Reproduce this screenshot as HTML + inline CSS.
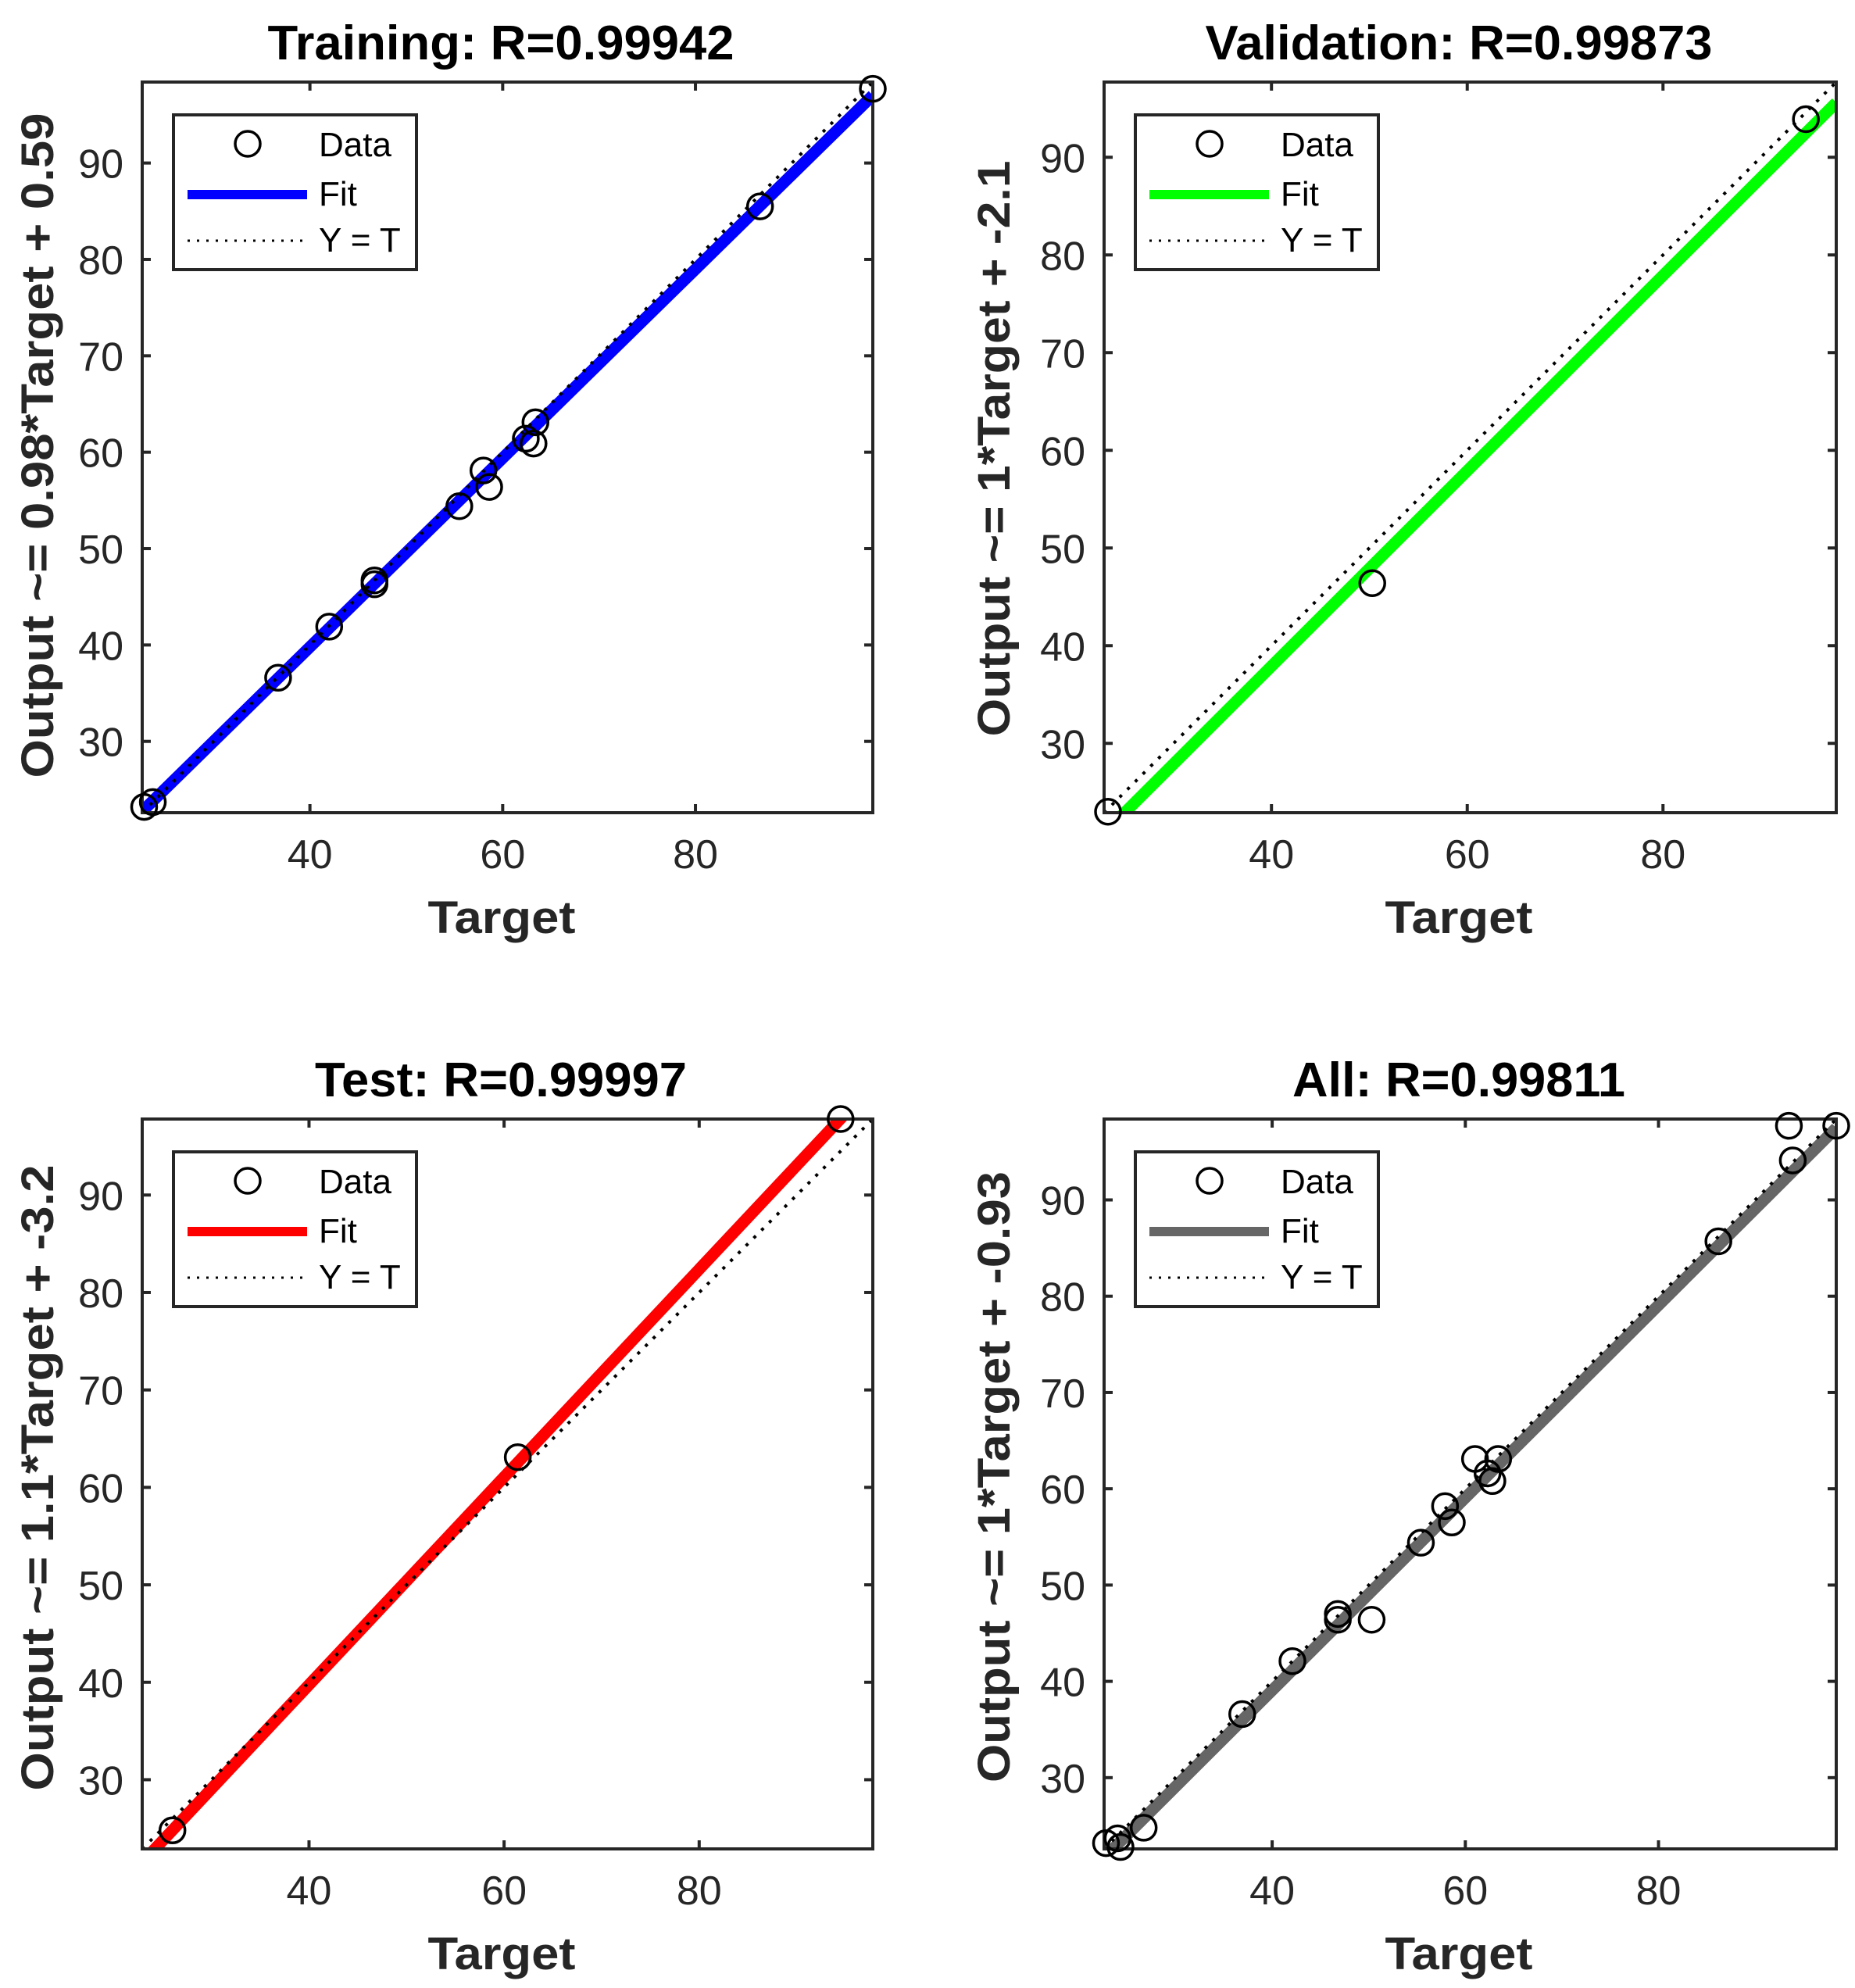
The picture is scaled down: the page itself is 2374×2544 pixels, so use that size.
<!DOCTYPE html>
<html><head><meta charset="utf-8"><style>
html,body{margin:0;padding:0;background:#fff}
svg{display:block}
text{font-family:"Liberation Sans",Arial,sans-serif}
.t{font-weight:bold;font-size:62px;fill:#000}
.al{font-weight:bold;font-size:58px;fill:#262626}
.tk{font-size:52px;fill:#262626}
.lg{font-size:44px;fill:#000}
</style></head><body>
<svg id="s" xmlns="http://www.w3.org/2000/svg" width="2374" height="2544" viewBox="0 0 2374 2544">
<rect width="2374" height="2544" fill="#fff"/>
<g id="g"></g>
<text class="t" x="641" y="76" text-anchor="middle" textLength="597" lengthAdjust="spacingAndGlyphs">Training: R=0.99942</text>
<text class="t" x="1867" y="76" text-anchor="middle" textLength="649" lengthAdjust="spacingAndGlyphs">Validation: R=0.99873</text>
<text class="t" x="641" y="1403" text-anchor="middle" textLength="476" lengthAdjust="spacingAndGlyphs">Test: R=0.99997</text>
<text class="t" x="1867" y="1403" text-anchor="middle" textLength="426" lengthAdjust="spacingAndGlyphs">All: R=0.99811</text>
<text class="al" x="642" y="1194" text-anchor="middle" textLength="189" lengthAdjust="spacingAndGlyphs">Target</text>
<text class="al" x="1867" y="1194" text-anchor="middle" textLength="189" lengthAdjust="spacingAndGlyphs">Target</text>
<text class="al" x="642" y="2520" text-anchor="middle" textLength="189" lengthAdjust="spacingAndGlyphs">Target</text>
<text class="al" x="1867" y="2520" text-anchor="middle" textLength="189" lengthAdjust="spacingAndGlyphs">Target</text>
<text class="al" transform="translate(68,570) rotate(-90)" text-anchor="middle" textLength="851" lengthAdjust="spacingAndGlyphs">Output ~= 0.98*Target + 0.59</text>
<text class="al" transform="translate(1292,574) rotate(-90)" text-anchor="middle" textLength="737" lengthAdjust="spacingAndGlyphs">Output ~= 1*Target + -2.1</text>
<text class="al" transform="translate(68,1891) rotate(-90)" text-anchor="middle" textLength="801" lengthAdjust="spacingAndGlyphs">Output ~= 1.1*Target + -3.2</text>
<text class="al" transform="translate(1292,1890) rotate(-90)" text-anchor="middle" textLength="782" lengthAdjust="spacingAndGlyphs">Output ~= 1*Target + -0.93</text>
<g id="tl"></g>
<g class="lg">
<text x="408" y="200">Data</text><text x="408" y="263">Fit</text><text x="408" y="322">Y = T</text>
<text x="1639" y="200">Data</text><text x="1639" y="263">Fit</text><text x="1639" y="322">Y = T</text>
<text x="408" y="1527">Data</text><text x="408" y="1590">Fit</text><text x="408" y="1649">Y = T</text>
<text x="1639" y="1527">Data</text><text x="1639" y="1590">Fit</text><text x="1639" y="1649">Y = T</text>
</g>
</svg>
<script>
var NS="http://www.w3.org/2000/svg",g=document.getElementById("g");
function el(n,a,p){var e=document.createElementNS(NS,n);for(var k in a)e.setAttribute(k,a[k]);(p||g).appendChild(e);return e;}
var P=[
{x0:182,x1:1117,y0:105,y1:1040,a:22.6,b:98.4,c:"#0000ff",m:0.98,q:0.59,
 d:[[22.8,23.2],[23.7,23.7],[36.7,36.6],[42.0,41.9],[46.7,46.7],[46.7,46.3],[55.5,54.4],[58.0,58.1],[58.6,56.4],[62.4,61.4],[63.2,60.9],[63.4,63.1],[86.7,85.5],[98.4,97.7]]},
{x0:1413,x1:2350,y0:105,y1:1040,a:22.9,b:97.7,c:"#00ff00",m:1.0,q:-2.1,
 d:[[23.3,23.0],[50.3,46.4],[94.6,93.9]]},
{x0:182,x1:1117,y0:1432,y1:2366,a:22.9,b:97.8,c:"#ff0000",m:1.066,q:-2.9,
 d:[[26.0,24.8],[61.4,63.1],[94.5,97.8]]},
{x0:1413,x1:2350,y0:1432,y1:2366,a:22.6,b:98.4,c:"#666666",m:1.0,q:-0.93,
 d:[[22.8,23.2],[24.0,23.7],[24.3,22.8],[26.7,24.8],[36.9,36.6],[42.1,42.1],[46.8,47.0],[46.8,46.4],[50.3,46.4],[55.4,54.4],[57.9,58.2],[58.6,56.5],[61.0,63.1],[62.3,61.6],[62.8,60.8],[63.4,63.1],[86.2,85.7],[93.5,97.7],[93.9,94.1],[98.4,97.7]]}
];
P.forEach(function(p,i){
 var sx=function(v){return p.x0+(v-p.a)/(p.b-p.a)*(p.x1-p.x0)},sy=function(v){return p.y1-(v-p.a)/(p.b-p.a)*(p.y1-p.y0)};
 var cid="c"+i;var cp=el("clipPath",{id:cid});el("rect",{x:p.x0,y:p.y0,width:p.x1-p.x0,height:p.y1-p.y0},cp);
 var gg=el("g",{"clip-path":"url(#"+cid+")"});
 el("line",{x1:sx(p.a),y1:sy(p.m*p.a+p.q),x2:sx(p.b),y2:sy(p.m*p.b+p.q),stroke:p.c,"stroke-width":15},gg);
 el("line",{x1:p.x0,y1:p.y1,x2:p.x1,y2:p.y0,stroke:"#000","stroke-width":4,"stroke-dasharray":"4 10"},gg);
 el("rect",{x:p.x0,y:p.y0,width:p.x1-p.x0,height:p.y1-p.y0,fill:"none",stroke:"#262626","stroke-width":4});
 [30,40,50,60,70,80,90].forEach(function(v){
  var y=sy(v);if(y>p.y0+2&&y<p.y1-2){el("line",{x1:p.x0,y1:y,x2:p.x0+11,y2:y,stroke:"#262626","stroke-width":4});el("line",{x1:p.x1,y1:y,x2:p.x1-11,y2:y,stroke:"#262626","stroke-width":4});
   var t=el("text",{x:p.x0-24,y:y+19,"text-anchor":"end","class":"tk"},document.getElementById("tl"));t.textContent=v;}
 });
 [40,60,80].forEach(function(v){var x=sx(v);
  el("line",{x1:x,y1:p.y1,x2:x,y2:p.y1-11,stroke:"#262626","stroke-width":4});el("line",{x1:x,y1:p.y0,x2:x,y2:p.y0+11,stroke:"#262626","stroke-width":4});
  var t=el("text",{x:x,y:p.y1+71,"text-anchor":"middle","class":"tk"},document.getElementById("tl"));t.textContent=v;});
 p.d.forEach(function(d){el("circle",{cx:sx(d[0]),cy:sy(d[1]),r:16,fill:"none",stroke:"#000","stroke-width":3.5});});
 var lx=p.x0+40,ly=p.y0+42;
 el("rect",{x:lx,y:ly,width:311,height:198,fill:"#fff",stroke:"#262626","stroke-width":4});
 el("circle",{cx:lx+95,cy:ly+37,r:16,fill:"none",stroke:"#000","stroke-width":3.5});
 el("line",{x1:lx+18,y1:ly+102,x2:lx+171,y2:ly+102,stroke:p.c,"stroke-width":12});
 el("line",{x1:lx+18,y1:ly+161,x2:lx+171,y2:ly+161,stroke:"#000","stroke-width":3,"stroke-dasharray":"3 9"});
});
var s=document.getElementById("s");s.appendChild(s.querySelector("g.lg"));
</script>
</body></html>
